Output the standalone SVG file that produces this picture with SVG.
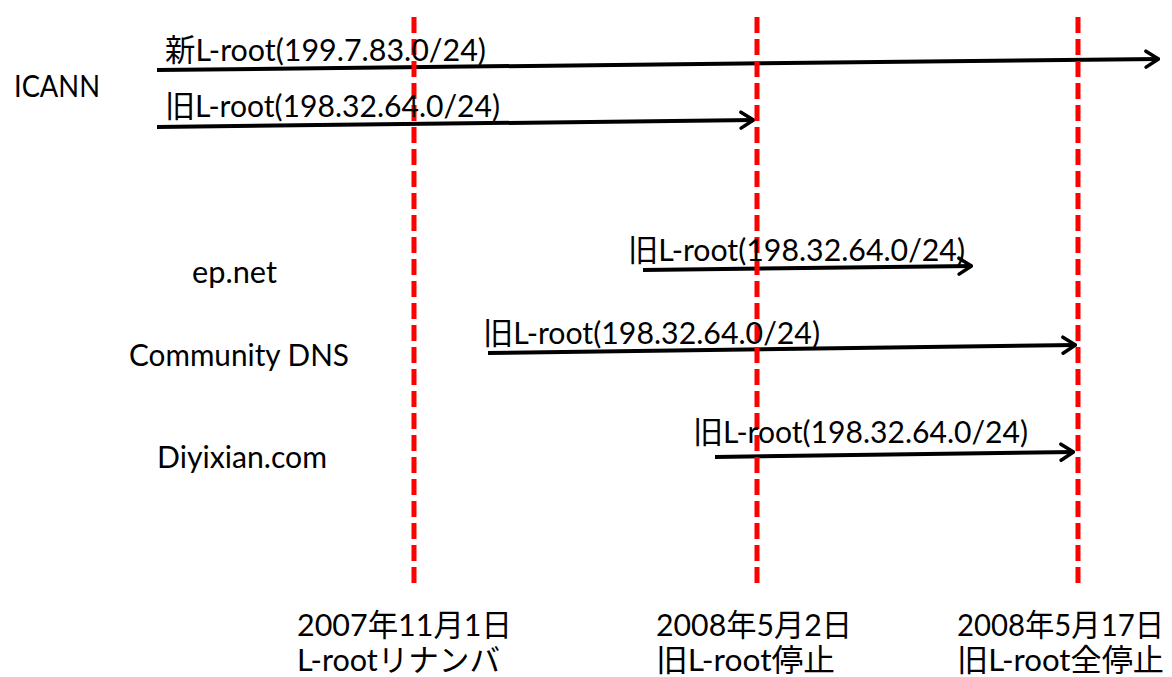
<svg xmlns="http://www.w3.org/2000/svg" width="1172" height="677" viewBox="0 0 1172 677">
<style>
  text { font-family: Lato, "Noto Sans CJK JP", sans-serif; font-size: 31px; fill: #000; }
  .arrow { stroke: #000; stroke-width: 4; fill: none; marker-end: url(#head); }
  .guide { stroke: #ff0000; stroke-width: 5; stroke-dasharray: 16 6; fill: none; }
</style>
<defs>
  <marker id="head" viewBox="0 0 16 20" refX="15" refY="10" markerWidth="16" markerHeight="20" markerUnits="userSpaceOnUse" orient="auto">
    <path d="M2,2 L14.5,10 L2,18" stroke="#000" stroke-width="3.5" fill="none" stroke-linecap="round" stroke-linejoin="round"/>
  </marker>
</defs>
<rect width="1172" height="677" fill="#fff"/>

<g id="connectors">
  <line class="arrow" x1="157" y1="70" x2="1159" y2="59"/>
  <line class="arrow" x1="157" y1="127" x2="754" y2="120"/>
  <line class="arrow" x1="643" y1="270" x2="972" y2="266"/>
  <line class="arrow" x1="488" y1="353" x2="1076" y2="345"/>
  <line class="arrow" x1="715" y1="457" x2="1074" y2="452"/>
</g>

<g id="guides">
  <line class="guide" x1="414" y1="17" x2="414" y2="586"/>
  <line class="guide" x1="757" y1="17" x2="757" y2="586"/>
  <line class="guide" x1="1078" y1="17" x2="1078" y2="586"/>
</g>

<g id="arrow-labels">
  <text x="165" y="61" textLength="321" lengthAdjust="spacingAndGlyphs">新L-root(199.7.83.0/24)</text>
  <text x="165" y="117" textLength="335" lengthAdjust="spacingAndGlyphs">旧L-root(198.32.64.0/24)</text>
  <text x="628" y="261" textLength="337" lengthAdjust="spacingAndGlyphs">旧L-root(198.32.64.0/24)</text>
  <text x="483" y="344" textLength="337" lengthAdjust="spacingAndGlyphs">旧L-root(198.32.64.0/24)</text>
  <text x="693" y="443" textLength="335" lengthAdjust="spacingAndGlyphs">旧L-root(198.32.64.0/24)</text>
</g>

<g id="node-icann"><text x="14" y="97" textLength="86" lengthAdjust="spacingAndGlyphs">ICANN</text></g>
<g id="node-epnet"><text x="192" y="283" textLength="85" lengthAdjust="spacingAndGlyphs">ep.net</text></g>
<g id="node-community"><text x="129" y="366" textLength="220" lengthAdjust="spacingAndGlyphs">Community DNS</text></g>
<g id="node-diyixian"><text x="157" y="468" textLength="170" lengthAdjust="spacingAndGlyphs">Diyixian.com</text></g>

<g id="date-1">
  <text x="297" y="636" textLength="215" lengthAdjust="spacingAndGlyphs">2007年11月1日</text>
  <text x="297" y="671" textLength="203" lengthAdjust="spacingAndGlyphs">L-rootリナンバ</text>
</g>
<g id="date-2">
  <text x="656" y="636" textLength="196" lengthAdjust="spacingAndGlyphs">2008年5月2日</text>
  <text x="656" y="671" textLength="179" lengthAdjust="spacingAndGlyphs">旧L-root停止</text>
</g>
<g id="date-3">
  <text x="957" y="636" textLength="207" lengthAdjust="spacingAndGlyphs">2008年5月17日</text>
  <text x="957" y="671" textLength="207" lengthAdjust="spacingAndGlyphs">旧L-root全停止</text>
</g>
</svg>
